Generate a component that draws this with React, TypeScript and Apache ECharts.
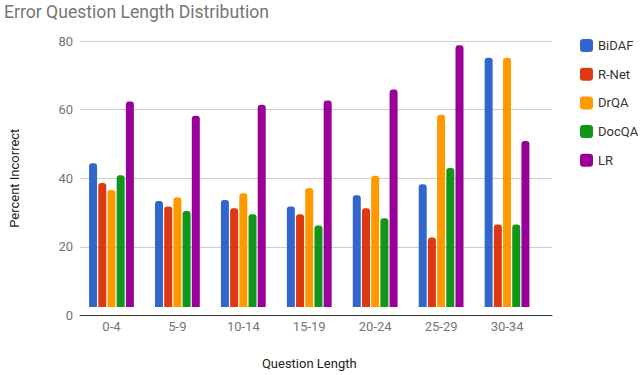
import React, { useEffect, useRef } from "react";
import * as echarts from "echarts";

const categories = ["0-4", "5-9", "10-14", "15-19", "20-24", "25-29", "30-34"];
const bidaf = [43.2, 31.9, 32.2, 30.2, 33.6, 36.9, 75.0];
const rnet = [37.3, 30.2, 29.7, 27.9, 29.7, 20.9, 24.8];
const drqa = [35.2, 33.0, 34.2, 35.8, 39.5, 57.8, 75.0];
const docqa = [39.6, 28.9, 27.9, 24.5, 26.7, 41.8, 24.8];
const lr = [61.8, 57.5, 60.8, 62.1, 65.4, 78.7, 49.9];
const yTicks = [0, 20, 40, 60, 80];

const seriesDefs = [
  { name: "BiDAF", data: bidaf, color: "#3366cc" },
  { name: "R-Net", data: rnet, color: "#dc3912" },
  { name: "DrQA", data: drqa, color: "#ff9900" },
  { name: "DocQA", data: docqa, color: "#109618" },
  { name: "LR", data: lr, color: "#990099" },
];

export default function App() {
  const ref = useRef<HTMLDivElement>(null);
  useEffect(() => {
    if (!ref.current) return;
    const chart = echarts.init(ref.current, undefined, { renderer: "svg" });
    const font = "Roboto";
    chart.setOption({
      animation: false,
      textStyle: { fontFamily: font },
      title: {
        text: "Error Question Length Distribution",
        left: -1,
        top: -2,
        textStyle: { fontFamily: font, fontSize: 17.6, fontWeight: "normal", color: "#757575" },
      },
      legend: {
        orient: "vertical",
        left: 575,
        top: 34,
        itemWidth: 13,
        itemHeight: 13,
        itemGap: 15.7,
        icon: "roundRect",
        textStyle: { fontFamily: font, fontSize: 13, color: "#333" },
        data: seriesDefs.map((s) => s.name),
      },
      grid: [
        { left: 67, right: 88, top: 41, bottom: 59.5 },
        { left: 78.5, right: 100, top: 41, bottom: 59.5 },
      ],
      xAxis: [
        {
          gridIndex: 0,
          type: "value",
          min: 0,
          max: 1,
          axisLine: { show: true, onZero: true, lineStyle: { color: "#333", width: 1 } },
          axisTick: { show: false },
          axisLabel: { show: false },
          splitLine: { show: false },
        },
        {
          gridIndex: 1,
          type: "category",
          data: categories,
          axisLine: { show: false },
          axisTick: { show: false },
          axisLabel: { color: "#757575", fontSize: 13, margin: 13, fontFamily: font },
          name: "Question Length",
          nameLocation: "middle",
          nameGap: 50,
          nameTextStyle: { color: "#222", fontSize: 13, fontFamily: font },
        },
      ],
      yAxis: [
        {
          gridIndex: 0,
          type: "value",
          min: 0,
          max: 80,
          interval: 20,
          axisLine: { show: false },
          axisTick: { show: false },
          axisLabel: {
            color: "#757575",
            fontSize: 13,
            margin: 7,
            fontFamily: font,
            formatter: (v: number) => (yTicks.includes(v) ? String(v) : ""),
          },
          splitLine: { show: true, lineStyle: { color: "#cccccc", width: 1 } },
          name: "Percent Incorrect",
          nameLocation: "middle",
          nameGap: 59,
          nameTextStyle: { color: "#222", fontSize: 13, fontFamily: font },
        },
        {
          gridIndex: 1,
          type: "value",
          min: 0,
          max: 80,
          interval: 20,
          show: false,
          splitLine: { show: false },
        },
      ],
      series: seriesDefs.map((s) => ({
        name: s.name,
        type: "bar",
        xAxisIndex: 1,
        yAxisIndex: 1,
        data: s.data,
        barWidth: 8,
        barGap: "15%",
        itemStyle: { color: s.color, borderRadius: [3, 3, 0, 0] },
      })),
    });
    return () => chart.dispose();
  }, []);
  return <div ref={ref} style={{ width: 640, height: 375, position: "absolute", left: 0, top: 0 }} />;
}
